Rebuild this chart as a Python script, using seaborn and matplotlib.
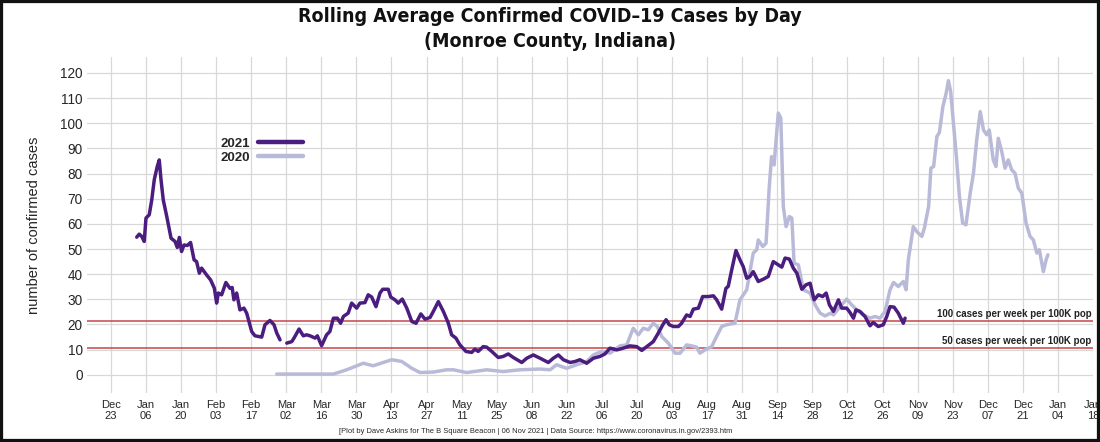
#!/usr/bin/env python3
# covid_monroe.py -- rolling average confirmed cases, 2021 vs 2020

import pandas as pd
import seaborn as sns
import matplotlib.pyplot as plt
from matplotlib.lines import Line2D
from matplotlib.patches import Rectangle

# Data =========================================================================
# day of year (0 = Jan 01) and 7-day rolling average

days_2021_a = [1.3, 2.3, 3.3, 4.3, 5.0, 6.3, 7.3, 8.3, 9.5, 10.3, 11.0, 11.9,
               13.3, 15.0, 16.6, 17.5, 18.3, 19.2, 20.2, 21.5, 22.8, 24.2,
               25.2, 26.3, 27.2, 29.2, 30.8, 32.3, 33.2, 33.9, 35.2, 36.9,
               38.5, 39.4, 40.1, 41.2, 42.5, 44.1, 45.2, 47.2, 48.5, 51.2,
               52.5, 54.5, 56.1, 57.2, 58.5]
cases_2021_a = [54.7, 55.9, 55.0, 53.0, 62.3, 63.6, 69.5, 77.5, 82.8, 85.4,
                77.5, 69.5, 62.9, 54.3, 53.0, 50.6, 54.6, 49.0, 51.6, 51.4,
                52.6, 45.7, 45.0, 40.4, 42.4, 39.7, 37.7, 34.4, 28.5, 32.5,
                31.8, 36.7, 34.4, 34.7, 29.8, 32.5, 25.8, 26.5, 24.5, 17.2,
                15.5, 15.0, 19.9, 21.6, 19.9, 16.6, 13.9]

days_2021_b = [61.2, 63.2, 64.2, 66.1, 67.8, 69.1, 70.5, 72.5, 73.4, 75.1,
               77.1, 78.4, 79.8, 81.4, 82.7, 83.8, 85.7, 87.1, 89.1, 90.4,
               92.4, 93.7, 95.1, 96.8, 98.4, 99.5, 101.7, 102.7, 104.4, 105.7,
               107.3, 109.1, 111.1, 112.8, 114.7, 116.4, 118.4, 119.7, 121.7,
               123.7, 125.7, 127.0, 128.7, 130.3, 132.7, 135.0, 136.3, 137.6,
               139.6, 141.0, 143.0, 145.6, 147.6, 149.6, 151.6, 155.0, 157.0,
               159.6, 162.3, 165.6, 167.6, 169.6, 171.6, 174.3, 176.3, 178.2,
               180.9, 183.6, 186.2, 188.2, 190.2, 192.9, 195.5, 198.2, 200.9,
               202.9, 204.9, 207.5, 209.5, 211.3, 212.6, 213.9, 215.5, 217.5,
               218.8, 220.8, 222.2, 223.5, 225.5, 227.2, 229.5, 231.5, 232.8,
               234.8, 236.5, 237.4, 238.8, 240.5, 242.1, 243.4, 244.8, 246.1,
               247.4, 249.4, 251.4, 253.4, 255.4, 257.4, 258.8, 260.1, 261.8,
               263.4, 264.8, 265.8, 266.8, 268.5, 270.1, 271.7, 273.4, 275.1,
               276.5, 277.8, 279.4, 281.4, 282.7, 284.7, 286.0, 287.4, 288.4,
               290.0, 292.0, 294.0, 295.3, 297.3, 299.3, 300.7, 302.0, 303.6,
               305.3, 307.3, 308.0]
cases_2021_b = [12.6, 13.2, 14.8, 18.2, 15.5, 15.9, 15.5, 14.6, 15.5, 11.6,
                15.9, 17.2, 22.5, 22.5, 20.5, 23.2, 24.5, 28.5, 26.5, 28.5,
                28.7, 31.8, 30.9, 27.1, 32.5, 34.0, 34.0, 30.9, 29.8, 28.5,
                30.1, 26.5, 21.2, 20.5, 24.2, 22.1, 22.8, 25.2, 29.1, 25.2,
                20.5, 15.9, 14.6, 11.9, 9.3, 8.9, 10.2, 9.3, 11.2, 11.0, 9.3,
                6.9, 7.3, 8.3, 6.9, 4.9, 6.6, 7.9, 6.6, 4.9, 6.6, 7.9, 6.0,
                4.9, 5.3, 6.0, 4.6, 6.6, 7.3, 8.3, 10.6, 9.9, 10.6, 11.5, 11.2,
                9.7, 11.2, 13.2, 16.6, 19.9, 21.9, 19.9, 19.2, 19.2, 20.5,
                23.8, 23.2, 26.1, 26.5, 31.1, 31.1, 31.4, 29.8, 26.1, 34.4,
                35.1, 41.7, 49.4, 45.7, 43.0, 38.4, 39.1, 41.0, 37.1, 38.0,
                39.1, 45.0, 43.7, 42.8, 46.4, 46.0, 42.4, 40.4, 37.1, 34.0,
                35.8, 36.4, 29.8, 31.8, 31.1, 32.5, 27.8, 25.2, 29.8, 26.5,
                26.5, 24.8, 22.5, 25.8, 25.2, 23.2, 19.5, 20.8, 19.2, 19.9,
                23.2, 27.1, 26.9, 24.5, 20.5, 22.5]

days_2020 = [57.2, 79.8, 85.1, 91.7, 95.7, 99.7, 103.1, 107.1, 111.1, 114.4,
             119.7, 125.0, 127.7, 133.0, 141.0, 147.6, 154.3, 162.3, 166.3,
             168.9, 172.9, 176.9, 180.9, 183.6, 186.9, 190.2, 194.2, 196.9,
             199.5, 201.5, 203.5, 205.5, 207.5, 209.1, 210.9, 213.5, 216.2,
             218.2, 220.8, 222.8, 224.8, 226.1, 228.1, 230.8, 232.1, 234.8,
             236.8, 240.1, 242.1, 244.8, 247.4, 248.8, 249.4, 251.2, 252.5,
             253.8, 254.7, 255.7, 257.4, 258.4, 259.4, 260.5, 261.8, 262.8,
             263.7, 265.4, 267.4, 270.1, 272.1, 274.1, 276.1, 278.2, 279.4,
             282.1, 284.7, 286.7, 288.7, 291.3, 294.0, 296.0, 298.0, 300.0,
             302.0, 303.4, 305.3, 307.3, 308.4, 309.3, 310.7, 311.3, 312.7,
             314.7, 315.7, 317.4, 318.3, 319.4, 320.7, 321.7, 323.1, 324.4,
             325.3, 326.2, 327.3, 328.6, 329.7, 331.0, 332.3, 334.0, 335.3,
             336.6, 338.0, 339.3, 340.6, 341.6, 343.2, 344.3, 345.2, 346.6,
             347.9, 349.2, 350.6, 351.9, 353.2, 354.6, 356.3, 357.9, 359.2,
             360.6, 361.6, 363.2, 364.3, 365.0]
cases_2020 = [0.3, 0.3, 2.0, 4.6, 3.6, 4.9, 6.0, 5.3, 2.6, 0.9, 1.1, 2.0, 2.0,
              0.9, 2.0, 1.3, 2.0, 2.3, 2.0, 4.0, 2.6, 4.0, 5.3, 7.9, 9.3, 8.6,
              11.5, 11.9, 18.5, 15.9, 18.5, 17.9, 20.5, 19.2, 15.2, 12.6, 8.6,
              8.6, 11.9, 11.5, 11.0, 8.6, 9.9, 11.2, 13.9, 19.2, 19.9, 20.5,
              29.8, 33.8, 48.4, 49.7, 53.6, 51.0, 52.3, 74.8, 86.7, 83.4,
              104.0, 102.0, 66.9, 58.9, 62.9, 62.3, 44.4, 43.7, 33.8, 32.5,
              27.8, 24.5, 23.4, 24.5, 23.8, 27.1, 30.1, 27.8, 25.8, 23.8,
              22.5, 23.2, 22.5, 25.2, 33.8, 36.7, 35.1, 37.1, 33.8, 45.7,
              55.0, 58.9, 56.9, 55.0, 58.3, 66.9, 82.1, 82.8, 94.7, 96.3,
              106.6, 111.9, 116.9, 112.6, 100.0, 85.4, 70.8, 60.3, 59.6, 72.2,
              80.1, 93.4, 104.6, 97.3, 95.4, 97.3, 85.4, 82.8, 94.0, 88.7,
              82.1, 85.4, 81.4, 80.1, 74.2, 72.2, 60.3, 55.0, 53.6, 48.4,
              49.7, 41.0, 45.7, 47.7]

years = ['2021', '2020']
colors = {'2021': '#4b1d7f', '2020': '#b9bad8'}

# thresholds for Monroe County (~148K residents)
thresholds = [21.2, 10.6]
threshold_labels = ['100 cases per week per 100K pop',
                    '50 cases per week per 100K pop']

title_lines = ['Rolling Average Confirmed COVID–19 Cases by Day',
               '(Monroe County, Indiana)']
credit = ('[Plot by Dave Askins for The B Square Beacon | 06 Nov 2021 | '
          'Data Source: https://www.coronavirus.in.gov/2393.htm')

# Functions ====================================================================

def build_frame():
    base = pd.Timestamp('2020-01-01')
    parts = []
    for seg, (d, c, yr) in enumerate([(days_2021_a, cases_2021_a, '2021'),
                                       (days_2021_b, cases_2021_b, '2021'),
                                       (days_2020, cases_2020, '2020')]):
        parts.append(pd.DataFrame({
            'date': base + pd.to_timedelta(d, unit='D'),
            'cases': c,
            'year': yr,
            'segment': seg,
        }))
    return pd.concat(parts, ignore_index=True)


def main():
    sns.set_theme(style='whitegrid')
    plt.rcParams['font.family'] = ['Liberation Sans', 'DejaVu Sans']

    df = build_frame()
    fig = plt.figure(figsize=(11, 4.42), dpi=100)
    ax = fig.add_axes([0.079, 0.111, 0.9146, 0.760])

    # draw 2020 first so 2021 sits on top
    sns.lineplot(data=df, x='date', y='cases', hue='year', units='segment',
                 estimator=None, sort=False, hue_order=['2020', '2021'],
                 palette=colors, linewidth=2.5, legend=False, ax=ax)

    for val, lab in zip(thresholds, threshold_labels):
        ax.axhline(val, color='#c8454a', linewidth=1.1, zorder=1)
        ax.text(0.9985, val + 0.9, lab, transform=ax.get_yaxis_transform(),
                ha='right', va='bottom', fontsize=7, fontweight='bold',
                color='#222222')

    ticks = pd.date_range('2019-12-23', '2021-01-18', freq='14D')
    ax.set_xticks(ticks)
    ax.set_xticklabels([t.strftime('%b\n%d') for t in ticks], fontsize=8,
                       linespacing=1.15)
    ax.set_xlim(pd.Timestamp('2019-12-13 10:00'), pd.Timestamp('2021-01-18'))
    ax.set_ylim(-7.2, 126.3)
    ax.set_yticks(range(0, 121, 10))
    ax.tick_params(axis='y', labelsize=9.8, pad=3, length=0)
    ax.tick_params(axis='x', pad=5, length=0)
    ax.grid(color='#d8d8d8', linewidth=0.9)
    for s in ax.spines.values():
        s.set_visible(False)
    ax.set_xlabel('')
    ax.set_ylabel('number of confirmed cases', fontsize=10.5, labelpad=14)

    handles = [Line2D([], [], color=colors[y], linewidth=3.2) for y in years]
    ax.legend(handles, years, loc='upper left', bbox_to_anchor=(0.121, 0.795),
              frameon=False, markerfirst=False, handlelength=3.4,
              handletextpad=0.6, labelspacing=0.1,
              prop={'weight': 'bold', 'size': 9.5})

    for ypos, line in zip([0.9638, 0.9072], title_lines):
        fig.text(0.5, ypos, line, ha='center', va='center', fontsize=14,
                 fontweight='bold', fontstretch='condensed', color='#111111',
                 family=['Liberation Sans Narrow', 'DejaVu Sans'])
    fig.text(0.487, 0.024, credit, ha='center', va='center', fontsize=5.4)

    fig.patches.append(Rectangle((0, 0), 1, 1, transform=fig.transFigure,
                                 fill=False, edgecolor='#111111', linewidth=4.5))
    fig.savefig('out.png', dpi=100)


# Execute ======================================================================

if __name__ == '__main__':
    main()
